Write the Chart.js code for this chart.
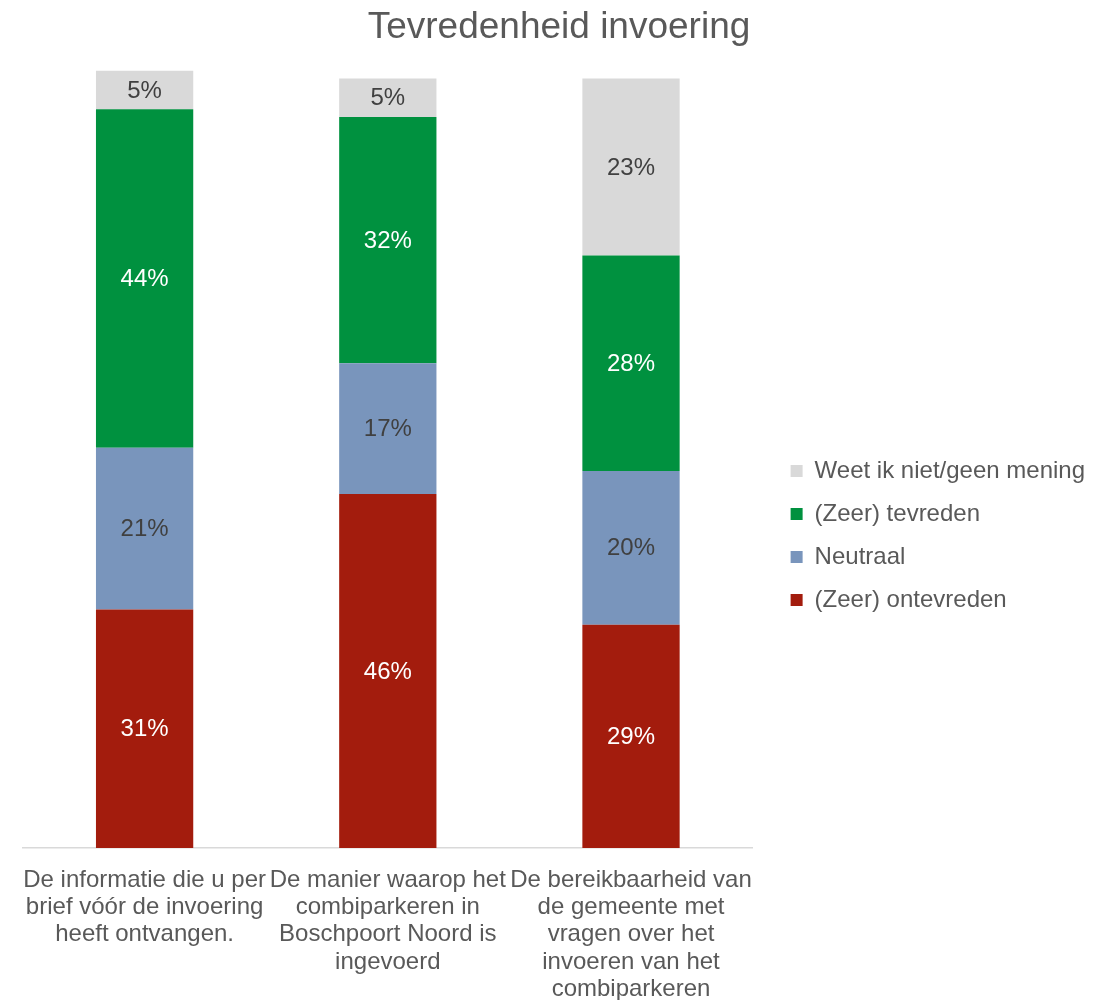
<!DOCTYPE html>
<html>
<head>
<meta charset="utf-8">
<script src="https://cdn.jsdelivr.net/npm/chart.js@4.4.1/dist/chart.umd.min.js"></script>
<style>
    html, body { margin: 0; padding: 0; background: #fff; }
    #wrap { width: 1110px; height: 1000px; }
</style>
</head>
<body>
<div id="wrap"><canvas id="tevredenheid"></canvas></div>
<script>
// Vragen (x-as), per regel afgebroken
const vragen = [
    ['De informatie die u per', 'brief vóór de invoering', 'heeft ontvangen.'],
    ['De manier waarop het', 'combiparkeren in', 'Boschpoort Noord is', 'ingevoerd'],
    ['De bereikbaarheid van', 'de gemeente met', 'vragen over het', 'invoeren van het', 'combiparkeren']
];

// Percentages per antwoordcategorie
const ontevreden = [31, 46, 29];
const neutraal = [21, 17, 20];
const tevreden = [44, 32, 28];
const weetNiet = [5, 5, 23];

const grijsTekst = '#595959';
const fontFamily = '"Liberation Sans", Arial, sans-serif';

// Percentages midden in elk blok tekenen
const percentageLabels = {
    id: 'percentageLabels',
    afterDatasetsDraw(chart) {
        const ctx = chart.ctx;
        ctx.save();
        ctx.font = '24px ' + fontFamily;
        ctx.textAlign = 'center';
        ctx.textBaseline = 'middle';
        chart.data.datasets.forEach((ds, i) => {
            const meta = chart.getDatasetMeta(i);
            meta.data.forEach((bar, j) => {
                const y = (bar.y + bar.base) / 2;
                ctx.fillStyle = ds.labelColor;
                ctx.fillText(ds.data[j] + '%', bar.x, y + 1);
            });
        });
        ctx.restore();
    }
};

new Chart(document.getElementById('tevredenheid'), {
    type: 'bar',
    data: {
        labels: vragen,
        datasets: [
            { label: '(Zeer) ontevreden', data: ontevreden, backgroundColor: '#A31C0D', labelColor: '#ffffff' },
            { label: 'Neutraal', data: neutraal, backgroundColor: '#7995BC', labelColor: '#404040' },
            { label: '(Zeer) tevreden', data: tevreden, backgroundColor: '#00913F', labelColor: '#ffffff' },
            { label: 'Weet ik niet/geen mening', data: weetNiet, backgroundColor: '#D9D9D9', labelColor: '#404040' }
        ]
    },
    options: {
        responsive: true,
        maintainAspectRatio: false,
        animation: false,
        datasets: {
            bar: { barPercentage: 0.4, categoryPercentage: 1, clip: false, borderWidth: 0 }
        },
        layout: { padding: { left: 23, right: 15, top: 0, bottom: 0 } },
        plugins: {
            title: {
                display: true,
                text: 'Tevredenheid invoering',
                color: grijsTekst,
                font: { family: fontFamily, size: 37, weight: 'normal' },
                padding: { top: 6, bottom: 28 }
            },
            legend: {
                position: 'right',
                reverse: true,
                maxWidth: 340,
                title: { display: true, text: ' ', font: { size: 24 }, padding: { top: 42, bottom: 0 } },
                labels: {
                    color: grijsTekst,
                    font: { family: fontFamily, size: 24 },
                    boxWidth: 12,
                    boxHeight: 12,
                    padding: 19
                }
            },
            tooltip: { enabled: false }
        },
        scales: {
            x: {
                stacked: true,
                grid: { display: false },
                border: { color: '#D9D9D9', width: 1.5 },
                ticks: {
                    color: grijsTekst,
                    font: { family: fontFamily, size: 24, lineHeight: 1.13 },
                    padding: 11,
                    maxRotation: 0,
                    minRotation: 0,
                    autoSkip: false
                },
                afterFit(scale) { scale.height = 152; }
            },
            y: {
                stacked: true,
                display: false,
                min: 0,
                max: 100
            },
            ruimte: {
                position: 'right',
                display: true,
                grid: { display: false },
                border: { display: false },
                ticks: { display: false },
                afterFit(scale) { scale.width = 19; }
            }
        }
    },
    plugins: [percentageLabels]
});
</script>
</body>
</html>
